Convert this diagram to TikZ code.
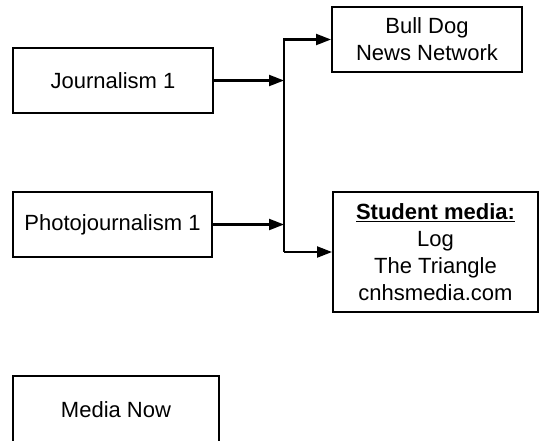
\documentclass[tikz,border=0pt]{standalone}
\usepackage{fontspec}
\setmainfont{Liberation Sans}
\usetikzlibrary{arrows.meta}
\begin{document}
\begin{tikzpicture}[x=1pt,y=-1pt,
  box/.style={draw,line width=2pt,rectangle,inner sep=0pt,align=center,
    font=\fontsize{22}{27}\selectfont},
  conn/.style={line width=2.2pt},
  arr/.style={conn,-{Triangle[length=15pt,width=11pt]}}]
\clip (0,0) rectangle (540,440);
\node[box,minimum width=200pt,minimum height=65pt] (j) at (113,80.5) {Journalism 1};
\node[box,minimum width=199pt,minimum height=65pt] (p) at (112.5,224.5) {Photojournalism 1};
\node[box,minimum width=190pt,minimum height=65pt] (bd) at (427,39.5) {Bull Dog\\News Network};
\node[box,minimum width=205pt,minimum height=120pt] (sm) at (435.5,252) {\textbf{\underline{Student media:}}\\Log\\The Triangle\\cnhsmedia.com};
\node[box,minimum width=206pt,minimum height=68pt] (mn) at (116,410) {Media Now};
\coordinate (jx) at (284,80.5);
\coordinate (px) at (284,224.5);
\coordinate (sb) at (284,252);
\draw[arr] (j.east) -- (jx);
\draw[arr] (p.east) -- (px);
\draw[arr] (sb) |- (bd.west);
\draw[arr] (sb) -- (sm.west);
\end{tikzpicture}
\end{document}
